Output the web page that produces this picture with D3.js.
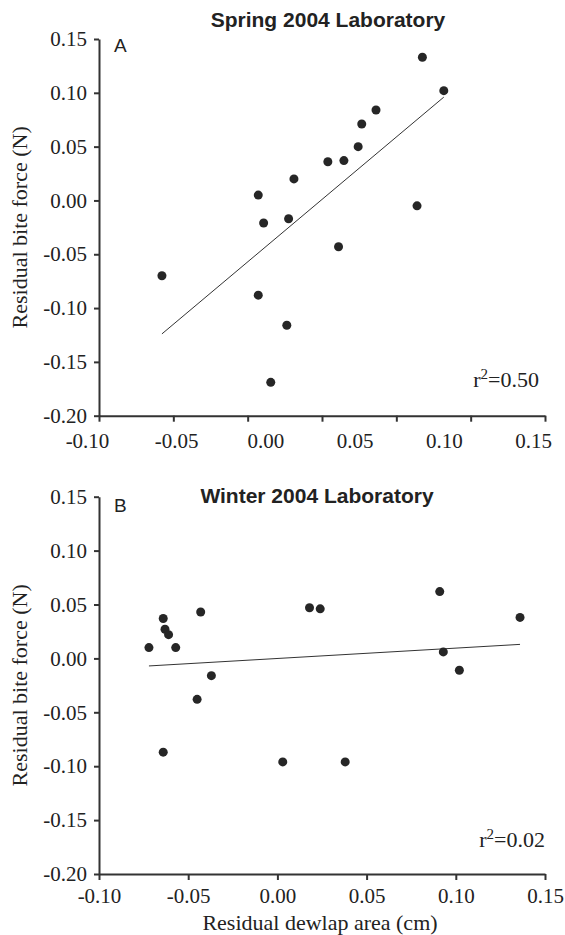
<!DOCTYPE html>
<html>
<head>
<meta charset="utf-8">
<script src="https://cdn.jsdelivr.net/npm/d3@7"></script>
<style>
  html, body { margin: 0; padding: 0; background: #fff; }
  svg { display: block; }
</style>
</head>
<body>
<div id="chart"></div>
<script>
// ---------- data ----------
const xTickLabels = [-0.10, -0.05, 0.00, 0.05, 0.10, 0.15];
const yTickLabels = [0.15, 0.10, 0.05, 0.00, -0.05, -0.10, -0.15, -0.20];

// Panel A: Spring 2004 Laboratory
const springX = [0.088, 0.100, 0.062, 0.054, 0.052, 0.044, 0.035, 0.016, -0.004, 0.085,
                 -0.001, 0.013, 0.041, -0.058, -0.004, 0.012, 0.003];
const springY = [0.133, 0.102, 0.084, 0.071, 0.050, 0.037, 0.036, 0.020, 0.005, -0.005,
                 -0.021, -0.017, -0.043, -0.070, -0.088, -0.116, -0.169];
const springFitX = [-0.058, 0.100];
const springFitY = [-0.124, 0.096];

// Panel B: Winter 2004 Laboratory
const winterX = [-0.072, -0.064, -0.063, -0.061, -0.057, -0.043, -0.037, 0.018, 0.024, 0.091,
                 0.093, 0.102, 0.136, -0.045, -0.064, 0.003, 0.038];
const winterY = [0.010, 0.037, 0.027, 0.022, 0.010, 0.043, -0.016, 0.047, 0.046, 0.062,
                 0.006, -0.011, 0.038, -0.038, -0.087, -0.096, -0.096];
const winterFitX = [-0.072, 0.136];
const winterFitY = [-0.007, 0.013];

// ---------- drawing ----------
const W = 565, H = 935;
const svg = d3.select("#chart").append("svg").attr("width", W).attr("height", H);

const serif = "'Liberation Serif', 'Times New Roman', serif";
const sans = "'Liberation Sans', Arial, sans-serif";
const ink = "#222";
const axisInk = "#333";
const fmt = d => (Math.abs(d) < 1e-9 ? 0 : d).toFixed(2);

function drawPanel(cfg) {
  const x0 = 99, x1 = 545;
  const y = d3.scaleLinear().domain([-0.20, 0.15]).range([cfg.yBottom, cfg.yTop]);
  const xAxisScale = d3.scaleLinear().domain([-0.10, 0.15]).range([x0, x1]);
  const xData = d3.scaleLinear().domain([-0.10, 0.15]).range([x0 + cfg.labelShift, x1 + cfg.labelShift]);

  const tickVals = d3.range(cfg.tickCount).map(i => -0.10 + i * 0.25 / (cfg.tickCount - 1));

  // x axis line + tick marks
  const gx = svg.append("g")
    .attr("transform", `translate(0,${cfg.yBottom})`)
    .call(d3.axisBottom(xAxisScale).tickValues(tickVals).tickFormat("").tickSize(6).tickSizeOuter(0));
  gx.selectAll("path, line").attr("stroke", axisInk).attr("stroke-width", 2);

  // x tick labels
  const gxl = svg.append("g")
    .attr("transform", `translate(0,${cfg.yBottom})`)
    .call(d3.axisBottom(xData).tickValues(xTickLabels).tickFormat(fmt).tickSize(0).tickPadding(cfg.xLabelPad));
  gxl.select(".domain").remove();
  gxl.selectAll("text").attr("font-family", serif).attr("font-size", 21).attr("fill", ink);

  // y axis
  const gy = svg.append("g")
    .attr("transform", `translate(${x0},0)`)
    .call(d3.axisLeft(y).tickValues(yTickLabels).tickFormat(fmt).tickSize(5).tickSizeOuter(0).tickPadding(7));
  gy.selectAll("path, line").attr("stroke", axisInk).attr("stroke-width", 2);
  gy.selectAll("text").attr("font-family", serif).attr("font-size", 21).attr("fill", ink);

  // y axis title
  svg.append("text")
    .attr("transform", `translate(27,${(cfg.yTop + cfg.yBottom) / 2}) rotate(-90)`)
    .attr("text-anchor", "middle")
    .attr("font-family", serif).attr("font-size", 22).attr("fill", ink)
    .text("Residual bite force (N)");

  // title
  svg.append("text")
    .attr("x", cfg.titleX).attr("y", cfg.titleY)
    .attr("text-anchor", "middle")
    .attr("font-family", sans).attr("font-weight", "bold").attr("font-size", 21).attr("fill", ink)
    .text(cfg.title);

  // panel letter
  svg.append("text")
    .attr("x", 114).attr("y", cfg.letterY)
    .attr("font-family", sans).attr("font-size", 19).attr("fill", ink)
    .text(cfg.letter);

  // regression line
  const fit = cfg.fitX.map((d, i) => [d, cfg.fitY[i]]);
  svg.append("path")
    .datum(fit)
    .attr("d", d3.line().x(d => xData(d[0])).y(d => y(d[1])))
    .attr("fill", "none").attr("stroke", axisInk).attr("stroke-width", 1);

  // points
  const pts = cfg.xs.map((d, i) => [d, cfg.ys[i]]);
  svg.append("g").selectAll("circle").data(pts).join("circle")
    .attr("cx", d => xData(d[0])).attr("cy", d => y(d[1]))
    .attr("r", 4.5).attr("fill", "#262626");

  // r^2 annotation
  const t = svg.append("text")
    .attr("x", cfg.r2X).attr("y", cfg.r2Y)
    .attr("text-anchor", "end")
    .attr("font-family", serif).attr("font-size", 22).attr("fill", ink);
  t.append("tspan").text("r");
  t.append("tspan").attr("dy", -8).attr("font-size", 15).text("2");
  t.append("tspan").attr("dy", 8).text("=" + cfg.r2);
}

drawPanel({
  title: "Spring 2004 Laboratory", titleX: 328, titleY: 27,
  letter: "A", letterY: 51.5,
  yTop: 39, yBottom: 415.7,
  tickCount: 7, labelShift: -12, xLabelPad: 17,
  xs: springX, ys: springY, fitX: springFitX, fitY: springFitY,
  r2: "0.50", r2X: 539, r2Y: 387
});

drawPanel({
  title: "Winter 2004 Laboratory", titleX: 317, titleY: 503,
  letter: "B", letterY: 512,
  yTop: 496.7, yBottom: 874,
  tickCount: 6, labelShift: 0, xLabelPad: 14,
  xs: winterX, ys: winterY, fitX: winterFitX, fitY: winterFitY,
  r2: "0.02", r2X: 545, r2Y: 847
});

// x axis title
svg.append("text")
  .attr("x", 320).attr("y", 930)
  .attr("text-anchor", "middle")
  .attr("font-family", serif).attr("font-size", 22).attr("fill", ink)
  .text("Residual dewlap area (cm)");
</script>
</body>
</html>
